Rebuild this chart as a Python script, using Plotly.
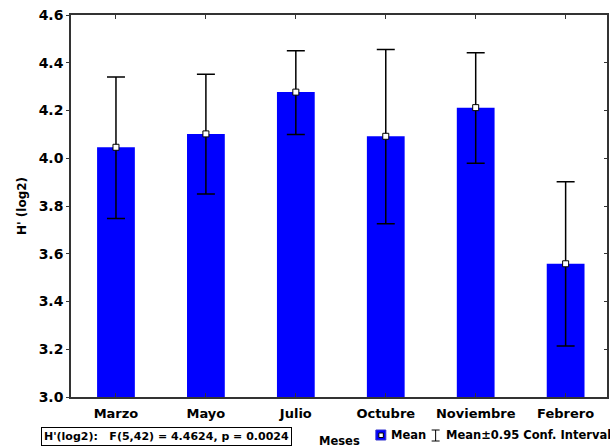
import plotly.graph_objects as go

months = ["Marzo", "Mayo", "Julio", "Octubre", "Noviembre", "Febrero"]
means = [4.046, 4.102, 4.277, 4.092, 4.212, 3.558]
upper = [4.340, 4.352, 4.450, 4.456, 4.442, 3.902]
lower = [3.748, 3.850, 4.100, 3.726, 3.979, 3.214]
yticks = [3.0, 3.2, 3.4, 3.6, 3.8, 4.0, 4.2, 4.4, 4.6]

W, H = 610, 447
L, R, T, B = 71, 1, 15, 50
PW, PH = W - L - R, H - T - B

def px(x):
    return (x - L) / PW

def py(y):
    return (H - B - y) / PH

FONT = "DejaVu Sans"
BLUE = "#0000FF"

fig = go.Figure()
fig.add_trace(go.Bar(x=months, y=means, marker=dict(color=BLUE, line=dict(width=0)),
                     width=0.42, showlegend=False))
fig.add_trace(go.Scatter(
    x=months, y=means, mode="markers",
    marker=dict(symbol="square", size=6, color="white", line=dict(color="black", width=1)),
    error_y=dict(type="data", symmetric=False,
                 array=[u - m for u, m in zip(upper, means)],
                 arrayminus=[m - l for m, l in zip(means, lower)],
                 color="black", thickness=1.5, width=9),
    showlegend=False))

# dummy trace for right axis ticks
fig.add_trace(go.Scatter(x=[months[0]], y=[means[0]], yaxis="y2", mode="markers",
                         marker=dict(opacity=0), showlegend=False, hoverinfo="skip"))

axis_color = "#333333"
fig.update_layout(
    width=W, height=H,
    margin=dict(l=L, r=R, t=T, b=B, pad=0),
    paper_bgcolor="white", plot_bgcolor="white",
    bargap=0.58,
    xaxis=dict(range=[-0.5, 5.46], ticks="inside", ticklen=4, tickcolor=axis_color,
               mirror="ticks", showline=True, linecolor=axis_color, linewidth=1.5,
               showgrid=False, zeroline=False, ticklabelstandoff=4,
               tickfont=dict(family=FONT, size=13, color="black", weight="bold")),
    yaxis=dict(range=[3.0, 4.6], tickvals=yticks, ticktext=[f"{v:.1f}" for v in yticks],
               ticks="outside", ticklen=3, tickcolor=axis_color,
               showline=True, linecolor=axis_color, linewidth=1.5, mirror=True,
               showgrid=False, zeroline=False,
               tickfont=dict(family=FONT, size=14, color="black", weight="bold"),
               title=dict(text="H' (log2)", standoff=9,
                          font=dict(family=FONT, size=12, color="black", weight="bold"))),
    yaxis2=dict(range=[3.0, 4.6], tickvals=yticks, overlaying="y", side="right",
                ticks="inside", ticklen=3, tickcolor=axis_color, showticklabels=False,
                showline=False, showgrid=False, zeroline=False),
)

ann_font = dict(family=FONT, size=11.5, color="black", weight="bold")
fig.add_annotation(xref="paper", yref="paper", x=px(166.5), y=py(436),
                   text="H'(log2):   F(5,42) = 4.4624, p = 0.0024", showarrow=False,
                   font=dict(family=FONT, size=11, color="black", weight="bold"),
                   bordercolor="black", borderwidth=1, borderpad=2,
                   bgcolor="white", xanchor="center", yanchor="middle")
fig.add_annotation(xref="paper", yref="paper", x=px(341), y=py(441), text="Meses",
                   showarrow=False, font=ann_font, xanchor="center", yanchor="middle")
fig.add_annotation(xref="paper", yref="paper", x=px(390), y=py(435), text="Mean",
                   showarrow=False, font=ann_font, xanchor="left", yanchor="middle")
fig.add_annotation(xref="paper", yref="paper", x=px(445), y=py(435),
                   text="Mean±0.95 Conf. Interval",
                   showarrow=False, font=ann_font, xanchor="left", yanchor="middle")

shapes = [
    dict(type="rect", xref="paper", yref="paper", x0=px(377), x1=px(387), y0=py(440), y1=py(430),
         fillcolor=BLUE, line=dict(color="#3333cc", width=1)),
    dict(type="rect", xref="paper", yref="paper", x0=px(380), x1=px(384.5), y0=py(437.5), y1=py(433),
         fillcolor="white", line=dict(color="black", width=1)),
    dict(type="line", xref="paper", yref="paper", x0=px(437), x1=px(437), y0=py(441), y1=py(430),
         line=dict(color="black", width=1)),
    dict(type="line", xref="paper", yref="paper", x0=px(433), x1=px(441), y0=py(430), y1=py(430),
         line=dict(color="black", width=1)),
    dict(type="line", xref="paper", yref="paper", x0=px(433), x1=px(441), y0=py(441), y1=py(441),
         line=dict(color="black", width=1)),
]
fig.update_layout(shapes=shapes)

fig.write_html("out.html")
